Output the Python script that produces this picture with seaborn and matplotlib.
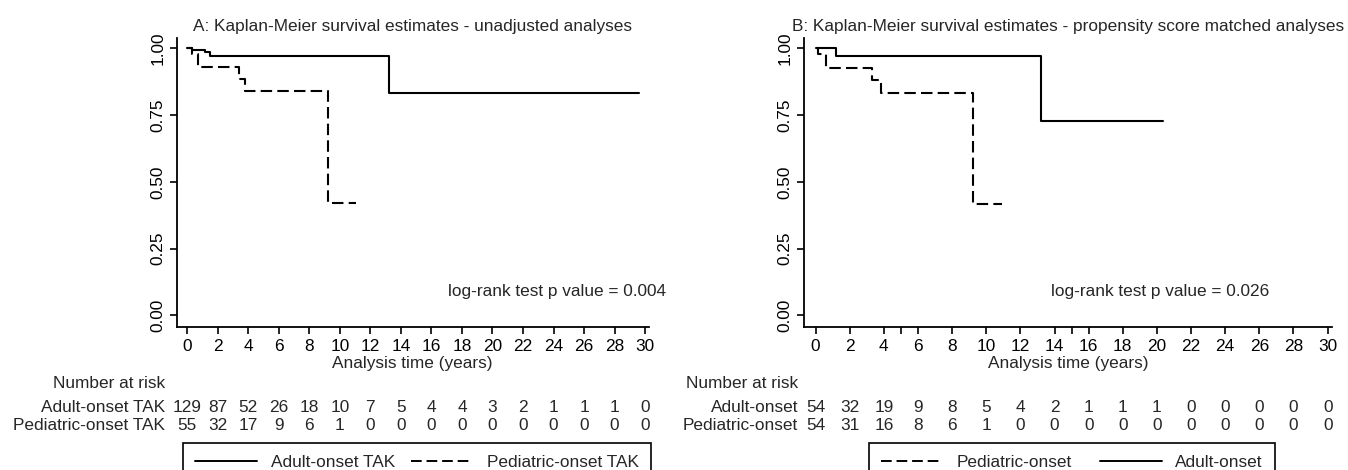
import matplotlib
matplotlib.use("Agg")
import matplotlib.pyplot as plt
import seaborn as sns
from matplotlib.lines import Line2D
from matplotlib.transforms import blended_transform_factory

# --- dados ---
# Painel A (não ajustado)
a_adulto_t = [0, 0.3, 1.15, 1.5, 13.2, 29.6]
a_adulto_s = [1.0, 0.993, 0.985, 0.972, 0.832, 0.832]
a_ped_t = [0, 0.3, 0.7, 3.36, 3.81, 9.24, 11.07]
a_ped_s = [1.0, 0.98, 0.93, 0.885, 0.842, 0.421, 0.421]

# Painel B (pareado por escore de propensão)
b_adulto_t = [0, 1.19, 13.18, 20.35]
b_adulto_s = [1.0, 0.972, 0.730, 0.730]
b_ped_t = [0, 0.15, 0.6, 3.33, 3.86, 9.2, 10.9]
b_ped_s = [1.0, 0.98, 0.926, 0.882, 0.834, 0.417, 0.417]

# Número em risco
tempos_risco = list(range(0, 31, 2))
a_adulto_risco = [129, 87, 52, 26, 18, 10, 7, 5, 4, 4, 3, 2, 1, 1, 1, 0]
a_ped_risco = [55, 32, 17, 9, 6, 1, 0, 0, 0, 0, 0, 0, 0, 0, 0, 0]
b_adulto_risco = [54, 32, 19, 9, 8, 5, 4, 2, 1, 1, 1, 0, 0, 0, 0, 0]
b_ped_risco = [54, 31, 16, 8, 6, 1, 0, 0, 0, 0, 0, 0, 0, 0, 0, 0]

yticks = [0, 0.25, 0.5, 0.75, 1.0]
ytick_labels = ["0.00", "0.25", "0.50", "0.75", "1.00"]

W, H = 1348, 470
TRACO = (0, (5.5, 2.5))
FS = 12.4

sns.set_theme(style="white")
plt.rcParams["font.family"] = ["Liberation Sans", "DejaVu Sans"]

fig = plt.figure(figsize=(W / 100, H / 100), dpi=100)


def fx(px):
    return px / W


def fy(py):
    return 1 - py / H


def painel(left, right, titulo, curvas, p_texto, p_x, linhas_risco, rot_dir,
           leg_x0, leg_x1, leg_ordem, minor=None):
    ax = fig.add_axes([fx(left), fy(326.7), fx(right) - fx(left), (326.7 - 38) / H])
    for t, s, estilo, rotulo in curvas:
        sns.lineplot(x=t, y=s, ax=ax, color="black", lw=1.5, drawstyle="steps-post",
                     linestyle=estilo, estimator=None, legend=False)
    ax.set_xlim(-0.7, 30.25)
    ax.set_ylim(-0.042, 1.039)
    ax.set_xticks(tempos_risco)
    ax.set_xticklabels([str(t) for t in tempos_risco], fontsize=FS)
    ax.set_yticks(yticks)
    ax.set_yticklabels(ytick_labels, rotation=90, va="center", fontsize=FS)
    if minor:
        ax.set_xticks(minor, minor=True)
    ax.tick_params(axis="both", which="both", direction="out", length=5, width=1.2,
                   color="black", labelcolor="black", bottom=True, left=True)
    ax.tick_params(axis="x", pad=3.5)
    ax.tick_params(axis="y", pad=3)
    for lado in ["top", "right"]:
        ax.spines[lado].set_visible(False)
    for lado in ["left", "bottom"]:
        ax.spines[lado].set_color("black")
        ax.spines[lado].set_linewidth(1.3)

    tr = blended_transform_factory(ax.transAxes, fig.transFigure)
    ax.text(0.5, fy(31), titulo, transform=tr, ha="center", va="baseline", fontsize=FS)
    ax.text(0.5, fy(368), "Analysis time (years)", transform=tr, ha="center",
            va="baseline", fontsize=FS)
    ax.text(p_x, 0.088, p_texto, ha="right", va="center", fontsize=FS)

    # tabela de número em risco
    trd = blended_transform_factory(ax.transData, fig.transFigure)
    fig.text(fx(rot_dir), fy(388), "Number at risk", ha="right", va="baseline", fontsize=FS)
    for (nome, valores), base in zip(linhas_risco, [412, 430]):
        fig.text(fx(rot_dir), fy(base), nome, ha="right", va="baseline", fontsize=FS)
        for t, n in zip(tempos_risco, valores):
            ax.text(t, fy(base), str(n), transform=trd, ha="center", va="baseline",
                    fontsize=FS)

    handles = [Line2D([], [], color="black", lw=1.4, linestyle=c[2]) for c in curvas]
    rotulos = [c[3] for c in curvas]
    handles = [handles[i] for i in leg_ordem]
    rotulos = [rotulos[i] for i in leg_ordem]
    leg = fig.legend(handles, rotulos, loc="upper left",
                     bbox_to_anchor=(fx(leg_x0), 0, fx(leg_x1) - fx(leg_x0), fy(443)),
                     bbox_transform=fig.transFigure, mode="expand", ncol=2,
                     frameon=True, fancybox=False, edgecolor="black", framealpha=1,
                     borderaxespad=0, borderpad=0.7, handlelength=3.6,
                     handletextpad=0.8, fontsize=FS)
    leg.get_frame().set_linewidth(1.2)
    return ax


painel(176.6, 648.9,
       "A: Kaplan-Meier survival estimates - unadjusted analyses",
       [(a_adulto_t, a_adulto_s, "-", "Adult-onset TAK"),
        (a_ped_t, a_ped_s, TRACO, "Pediatric-onset TAK")],
       "log-rank test p value = 0.004", 31.4,
       [("Adult-onset TAK", a_adulto_risco), ("Pediatric-onset TAK", a_ped_risco)],
       165, 183, 651, [0, 1])

painel(803.6, 1331.9,
       "B: Kaplan-Meier survival estimates - propensity score matched analyses",
       [(b_adulto_t, b_adulto_s, "-", "Adult-onset"),
        (b_ped_t, b_ped_s, TRACO, "Pediatric-onset")],
       "log-rank test p value = 0.026", 26.6,
       [("Adult-onset", b_adulto_risco), ("Pediatric-onset", b_ped_risco)],
       798, 869, 1275, [1, 0], minor=[5, 15])

fig.savefig("out.png", dpi=100, facecolor="white")
